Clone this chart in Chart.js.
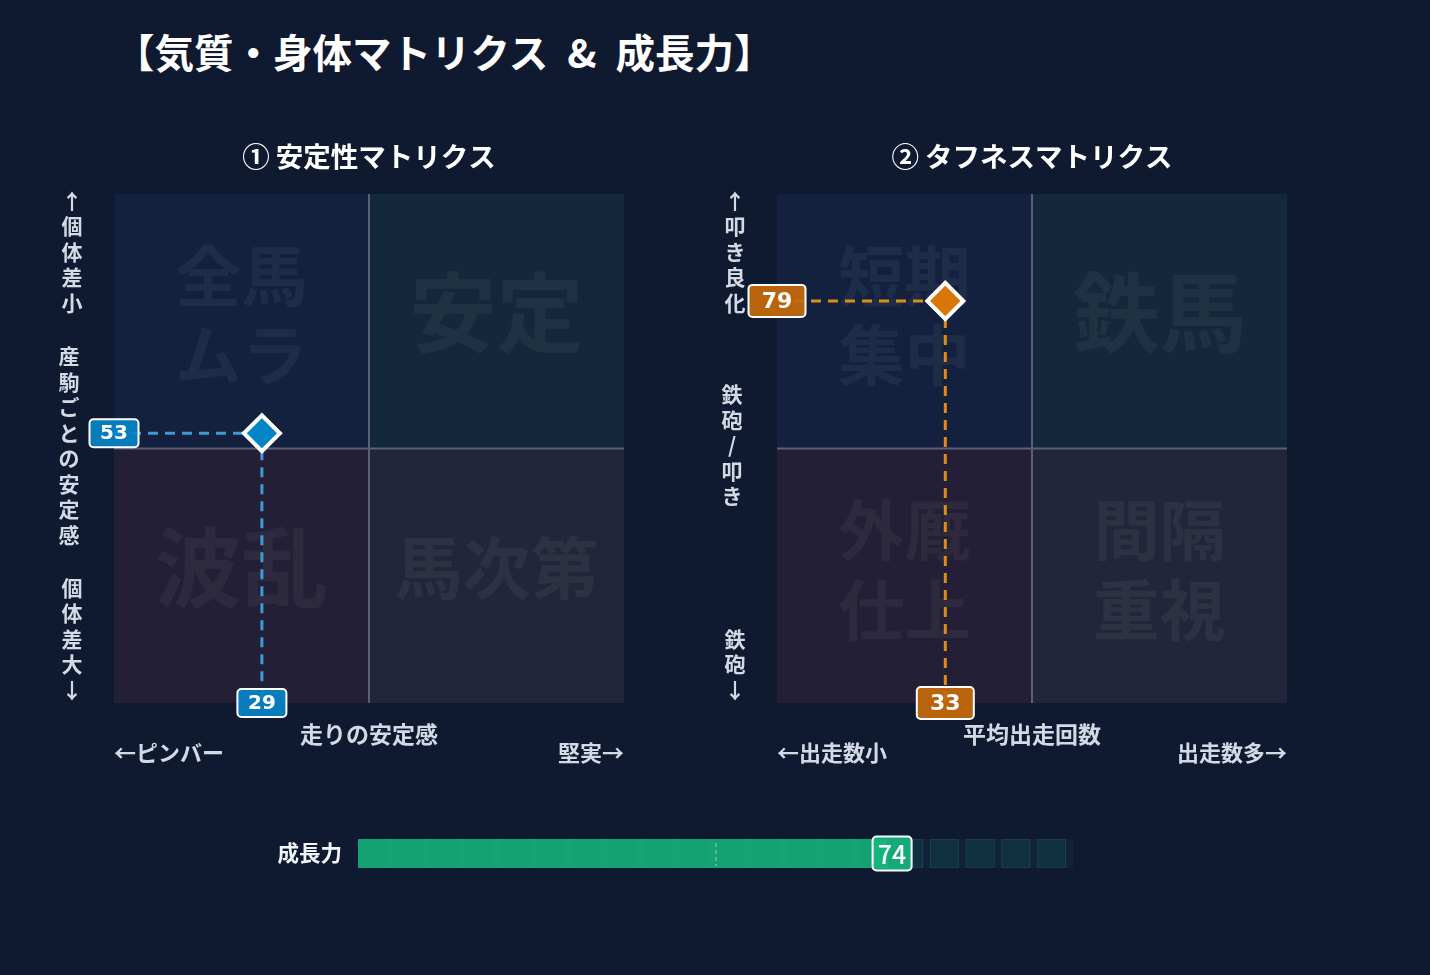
<!DOCTYPE html>
<html lang="ja">
<head>
<meta charset="utf-8">
<title>気質・身体マトリクス & 成長力</title>
<script src="https://cdn.jsdelivr.net/npm/chart.js@4.4.1/dist/chart.umd.min.js"></script>
<style>
  html, body { margin: 0; padding: 0; background: #0f1a30; }
  body { width: 1430px; height: 975px; position: relative; overflow: hidden;
         font-family: 'Noto Sans CJK JP', 'DejaVu Sans', sans-serif; }
  h1 { position: absolute; left: 115px; top: 28px; margin: 0; font-size: 39.5px; line-height: 46px;
       font-weight: 700; color: #ffffff; white-space: pre; word-spacing: 10px; }
  canvas { position: absolute; }
  #stability { left: 40px; top: 120px; }
  #toughness { left: 700px; top: 120px; }
  #growth { left: 250px; top: 820px; }
</style>
</head>
<body>
<h1>【気質・身体マトリクス &amp; 成長力】</h1>
<canvas id="stability" width="620" height="660"></canvas>
<canvas id="toughness" width="620" height="660"></canvas>
<canvas id="growth" width="850" height="70"></canvas>
<script>
// ---- data ----
const stabilityTitle = '① 安定性マトリクス';
const stabilityX = [29];
const stabilityY = [53];
// quadrants: top-left, top-right, bottom-left, bottom-right
const stabilityQuadrants = ['全馬\nムラ', '安定', '波乱', '馬次第'];
const stabilityXLabels = ['←ピンバー', '走りの安定感', '堅実→'];
const stabilityYLabels = ['↑個体差小', '産駒ごとの安定感', '個体差大↓'];

const toughnessTitle = '② タフネスマトリクス';
const toughnessX = [33];
const toughnessY = [79];
const toughnessQuadrants = ['短期\n集中', '鉄馬', '外厩\n仕上', '間隔\n重視'];
const toughnessXLabels = ['←出走数小', '平均出走回数', '出走数多→'];
const toughnessYLabels = ['↑叩き良化', '鉄砲/叩き', '鉄砲↓'];

const growthLabels = ['成長力'];
const growthValues = [74];
const growthSegments = 20;
const growthMarker = 50;

const FONT = "'Noto Sans CJK JP', 'DejaVu Sans', sans-serif";
const QUAD_COLORS = ['#13213f', '#13283a', '#221f36', '#21263a'];

function valueBox(ctx, cx, cy, w, h, fill, text, font) {
  ctx.save();
  ctx.beginPath();
  ctx.roundRect(cx - w / 2, cy - h / 2, w, h, 4);
  ctx.globalAlpha = 0.92;
  ctx.fillStyle = fill;
  ctx.fill();
  ctx.globalAlpha = 1;
  ctx.lineWidth = 2;
  ctx.strokeStyle = '#ffffff';
  ctx.stroke();
  ctx.fillStyle = '#ffffff';
  ctx.font = font;
  ctx.textAlign = 'center';
  ctx.textBaseline = 'middle';
  ctx.fillText(text, cx, cy + 1);
  ctx.restore();
}

function stackText(ctx, str, x, y0, step) {
  Array.from(str).forEach((ch, i) => ctx.fillText(ch, x, y0 + i * step));
}

function matrixPlugin(cfg) {
  return {
    id: 'matrix',
    beforeDatasetsDraw(chart) {
      const { ctx, chartArea: a, scales: { x, y } } = chart;
      const mx = x.getPixelForValue(50), my = y.getPixelForValue(50);
      const rects = [
        [a.left, a.top, mx, my], [mx, a.top, a.right, my],
        [a.left, my, mx, a.bottom], [mx, my, a.right, a.bottom]
      ];
      ctx.save();
      rects.forEach((r, i) => {
        ctx.fillStyle = QUAD_COLORS[i];
        ctx.fillRect(r[0], r[1], r[2] - r[0], r[3] - r[1]);
      });
      // watermark words
      ctx.fillStyle = 'rgba(255,255,255,0.05)';
      ctx.textAlign = 'center';
      ctx.textBaseline = 'middle';
      rects.forEach((r, i) => {
        const lines = cfg.quadrants[i].split('\n');
        const maxChars = Math.max(...lines.map(l => l.length));
        const qw = r[2] - r[0], qh = r[3] - r[1];
        const size = Math.min(87, qw * 0.8 / maxChars, qh * 0.52 / lines.length);
        const lh = size * 1.2;
        ctx.font = `bold ${size}px ${FONT}`;
        const cx = (r[0] + r[2]) / 2;
        const cy = (r[1] + r[3]) / 2 - (lines.length > 1 ? 6 : 8);
        lines.forEach((l, k) => ctx.fillText(l, cx, cy + (k - (lines.length - 1) / 2) * lh));
      });
      // split lines
      ctx.strokeStyle = '#5a6175';
      ctx.lineWidth = 2;
      ctx.beginPath();
      ctx.moveTo(mx, a.top); ctx.lineTo(mx, a.bottom);
      ctx.moveTo(a.left, my); ctx.lineTo(a.right, my);
      ctx.stroke();
      // guide lines to the point
      const px = x.getPixelForValue(cfg.xs[0]), py = y.getPixelForValue(cfg.ys[0]);
      ctx.strokeStyle = cfg.line;
      ctx.lineWidth = 3;
      ctx.setLineDash([10, 7]);
      ctx.beginPath();
      ctx.moveTo(a.left, py); ctx.lineTo(px, py);
      ctx.moveTo(px, py); ctx.lineTo(px, a.bottom);
      ctx.stroke();
      ctx.restore();
    },
    afterDatasetsDraw(chart) {
      const { ctx, chartArea: a, scales: { x, y } } = chart;
      const px = x.getPixelForValue(cfg.xs[0]), py = y.getPixelForValue(cfg.ys[0]);
      const f = `bold ${cfg.boxFont}px 'DejaVu Sans', sans-serif`;
      valueBox(ctx, a.left, py, cfg.boxW, cfg.boxH, cfg.box, String(cfg.ys[0]), f);
      valueBox(ctx, px, a.bottom, cfg.boxW, cfg.boxH, cfg.box, String(cfg.xs[0]), f);
    },
    afterDraw(chart) {
      const { ctx, chartArea: a } = chart;
      const cx = (a.left + a.right) / 2;
      ctx.save();
      ctx.textAlign = 'center';
      ctx.textBaseline = 'middle';
      ctx.fillStyle = '#ffffff';
      ctx.font = `bold 27.5px ${FONT}`;
      ctx.fillText(cfg.title, cx, a.top - 37);
      // x axis texts
      ctx.fillStyle = '#d3dae5';
      ctx.font = `bold 23px ${FONT}`;
      ctx.fillText(cfg.xLabels[1], cx, a.bottom + 31);
      ctx.font = `bold 22px ${FONT}`;
      ctx.textAlign = 'left';
      ctx.fillText(cfg.xLabels[0], a.left, a.bottom + 50);
      ctx.textAlign = 'right';
      ctx.fillText(cfg.xLabels[2], a.right, a.bottom + 50);
      // y axis texts, stacked vertically
      ctx.textAlign = 'center';
      ctx.font = `bold 21px ${FONT}`;
      const step = 25.5;
      const lx = a.left - 42;
      stackText(ctx, cfg.yLabels[0], lx, a.top + 7, step);
      const mid = cfg.yLabels[1];
      const midTop = (a.top + a.bottom) / 2 - 3 - (mid.length - 1) * step / 2;
      stackText(ctx, mid, lx - 3, midTop, step);
      const bot = cfg.yLabels[2];
      stackText(ctx, bot, lx, a.bottom - 13 - (bot.length - 1) * step, step);
      ctx.restore();
    }
  };
}

function makeMatrix(id, cfg) {
  return new Chart(document.getElementById(id), {
    type: 'scatter',
    data: {
      datasets: [{
        data: cfg.xs.map((v, i) => ({ x: v, y: cfg.ys[i] })),
        pointStyle: 'rectRot',
        pointRadius: 18,
        pointHoverRadius: 18,
        backgroundColor: cfg.point,
        borderColor: '#ffffff',
        borderWidth: 4
      }]
    },
    options: {
      responsive: false,
      devicePixelRatio: 1,
      animation: false,
      layout: { padding: cfg.padding },
      scales: {
        x: { type: 'linear', min: 0, max: 100, display: false },
        y: { type: 'linear', min: 0, max: 100, display: false }
      },
      plugins: { legend: { display: false }, tooltip: { enabled: false } }
    },
    plugins: [matrixPlugin(cfg)]
  });
}

makeMatrix('stability', {
  title: stabilityTitle, xs: stabilityX, ys: stabilityY,
  quadrants: stabilityQuadrants, xLabels: stabilityXLabels, yLabels: stabilityYLabels,
  point: '#0284c7', line: '#3a9bd7', box: '#0784c8', boxFont: 20, boxW: 49, boxH: 28,
  padding: { left: 74, right: 36, top: 74, bottom: 77 }
});

makeMatrix('toughness', {
  title: toughnessTitle, xs: toughnessX, ys: toughnessY,
  quadrants: toughnessQuadrants, xLabels: toughnessXLabels, yLabels: toughnessYLabels,
  point: '#d97706', line: '#dc8d18', box: '#c76a0a', boxFont: 22, boxW: 57, boxH: 32,
  padding: { left: 77, right: 33, top: 74, bottom: 77 }
});

// ---- growth bar ----
const growthPlugin = {
  id: 'growthTrack',
  beforeDatasetsDraw(chart) {
    const { ctx, chartArea: a, scales: { x } } = chart;
    ctx.save();
    ctx.fillStyle = '#13213a';
    ctx.fillRect(a.left, a.top, a.right - a.left, a.bottom - a.top);
    const span = 100 / growthSegments;
    for (let i = 0; i < growthSegments; i++) {
      const x0 = x.getPixelForValue(i * span);
      const x1 = x.getPixelForValue((i + 1) * span);
      ctx.fillStyle = '#11303f';
      ctx.fillRect(x0, a.top, x1 - x0 - 7, a.bottom - a.top);
      ctx.strokeStyle = '#17404b';
      ctx.lineWidth = 1;
      ctx.strokeRect(x0 + 0.5, a.top + 0.5, x1 - x0 - 8, a.bottom - a.top - 1);
    }
    ctx.restore();
  },
  afterDatasetsDraw(chart) {
    const { ctx, chartArea: a, scales: { x } } = chart;
    const span = 100 / growthSegments;
    const end = x.getPixelForValue(growthValues[0]);
    ctx.save();
    // faint segment stripes inside the fill
    ctx.fillStyle = 'rgba(255,255,255,0.018)';
    for (let i = 0; i < growthSegments; i++) {
      const x1 = x.getPixelForValue((i + 1) * span);
      if (x1 - 7 > end) break;
      ctx.fillRect(x1 - 7, a.top, 7, a.bottom - a.top);
    }
    // midpoint marker
    const m = x.getPixelForValue(growthMarker);
    ctx.strokeStyle = 'rgba(255,255,255,0.55)';
    ctx.lineWidth = 1;
    ctx.setLineDash([4, 3]);
    ctx.beginPath();
    ctx.moveTo(m + 0.5, a.top + 4); ctx.lineTo(m + 0.5, a.bottom - 2);
    ctx.stroke();
    ctx.setLineDash([]);
    // value box
    const cy = (a.top + a.bottom) / 2;
    valueBox(ctx, end + 5, cy, 39, 34, '#16b57f', String(growthValues[0]), `500 25px ${FONT}`);
    // label
    ctx.fillStyle = '#f2f5f9';
    ctx.font = `bold 21.5px ${FONT}`;
    ctx.textAlign = 'right';
    ctx.textBaseline = 'middle';
    ctx.fillText(growthLabels[0], a.left - 16, cy - 1);
    ctx.restore();
  }
};

new Chart(document.getElementById('growth'), {
  type: 'bar',
  data: {
    labels: growthLabels,
    datasets: [{
      data: growthValues,
      backgroundColor: '#14a273',
      borderWidth: 0,
      barPercentage: 1,
      categoryPercentage: 1
    }]
  },
  options: {
    indexAxis: 'y',
    responsive: false,
    devicePixelRatio: 1,
    animation: false,
    layout: { padding: { left: 108, right: 27, top: 19, bottom: 22 } },
    scales: {
      x: { min: 0, max: 100, display: false },
      y: { display: false }
    },
    plugins: { legend: { display: false }, tooltip: { enabled: false } }
  },
  plugins: [growthPlugin]
});
</script>
</body>
</html>
